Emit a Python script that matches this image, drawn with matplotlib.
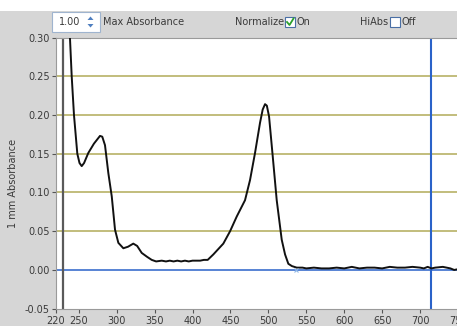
import matplotlib
matplotlib.use("Agg")
import matplotlib.pyplot as plt
from matplotlib.patches import Rectangle, Polygon
from matplotlib.lines import Line2D

# Absorbance spectrum (1 mm path length)
wavelength = [237, 240.7, 243.7, 248.1, 251, 253.9, 257, 262.6, 270, 278, 281,
              284.6, 289, 293.5, 297.8, 302.2, 308.8, 315, 321.9, 327, 333, 340,
              346.2, 352, 359.4, 365, 370, 375, 380, 385, 390, 395, 400, 405,
              410, 415, 420, 427.4, 434, 440.6, 449.5, 458.3, 469.2, 475.8,
              482.4, 489, 492.5, 495.6, 498, 500.9, 505.8, 511, 517.6, 522,
              526.3, 531, 537.4, 545, 550, 560, 570, 580, 590, 600, 610, 615,
              620, 630, 640, 650, 660, 670, 680, 690, 700, 705, 710, 715, 720,
              730, 740, 745, 750]
absorbance = [0.33, 0.25, 0.20, 0.15, 0.138, 0.134, 0.138, 0.151, 0.163, 0.173,
              0.172, 0.161, 0.125, 0.095, 0.052, 0.035, 0.028, 0.030, 0.034,
              0.031, 0.022, 0.017, 0.013, 0.011, 0.012, 0.011, 0.012, 0.011,
              0.012, 0.011, 0.012, 0.011, 0.012, 0.012, 0.012, 0.013, 0.013,
              0.020, 0.027, 0.034, 0.050, 0.069, 0.090, 0.116, 0.151, 0.190,
              0.207, 0.214, 0.212, 0.198, 0.146, 0.090, 0.039, 0.020, 0.008,
              0.005, 0.003, 0.003, 0.002, 0.003, 0.002, 0.002, 0.003, 0.002,
              0.004, 0.003, 0.002, 0.003, 0.003, 0.002, 0.004, 0.003, 0.003,
              0.004, 0.003, 0.002, 0.004, 0.002, 0.003, 0.004, 0.002, 0.000,
              0.001]

x_ticks = [220, 250, 300, 350, 400, 450, 500, 550, 600, 650, 700, 750]
y_ticks = [-0.05, 0.00, 0.05, 0.10, 0.15, 0.20, 0.25, 0.30]
y_tick_labels = ["-0.05", "0.00", "0.05", "0.10", "0.15", "0.20", "0.25", "0.30"]
grid_levels = [0.05, 0.10, 0.15, 0.20, 0.25]
reference_wl = 229
cursor_wl = 715
cursor_mark = (537, 0.0)

W, H = 457, 326
TXT = "#3a3a3a"


def fx(px):
    return px / W


def fy(py):
    return 1 - py / H


fig = plt.figure(figsize=(W / 100, H / 100), dpi=100, facecolor="#d6d6d6")

# white strip above the toolbar
fig.patches.append(Rectangle((0, fy(11)), 1, 11 / H, transform=fig.transFigure,
                             facecolor="white", edgecolor="none", zorder=0))

# toolbar: spin box with max absorbance value
fig.patches.append(Rectangle((fx(52), fy(32)), fx(48), 20 / H,
                             transform=fig.transFigure, facecolor="white",
                             edgecolor="#9fb4cf", linewidth=0.8, zorder=1))
fig.text(fx(70), fy(22), "1.00", fontsize=7, color=TXT, ha="center", va="center")
fig.patches.append(Polygon([(fx(87.5), fy(20)), (fx(93.5), fy(20)), (fx(90.5), fy(16.5))],
                           closed=True, transform=fig.transFigure,
                           facecolor="#4f7fc0", edgecolor="none", zorder=2))
fig.patches.append(Polygon([(fx(87.5), fy(24)), (fx(93.5), fy(24)), (fx(90.5), fy(27.5))],
                           closed=True, transform=fig.transFigure,
                           facecolor="#4f7fc0", edgecolor="none", zorder=2))
fig.text(fx(103), fy(22), "Max Absorbance", fontsize=7, color=TXT,
         ha="left", va="center")

# Normalize checkbox (checked)
fig.text(fx(235), fy(22), "Normalize", fontsize=7, color=TXT, ha="left", va="center")
fig.patches.append(Rectangle((fx(285), fy(27)), fx(10), 10 / H,
                             transform=fig.transFigure, facecolor="white",
                             edgecolor="#4a6fa5", linewidth=0.8, zorder=1))
fig.lines.append(Line2D([fx(287), fx(289.5), fx(293.5)], [fy(22), fy(25), fy(18.5)],
                        transform=fig.transFigure, color="#2ca02c", linewidth=1.3,
                        zorder=2))
fig.text(fx(296.5), fy(22), "On", fontsize=7, color=TXT, ha="left", va="center")

# HiAbs checkbox (unchecked)
fig.text(fx(360), fy(22), "HiAbs", fontsize=7, color=TXT, ha="left", va="center")
fig.patches.append(Rectangle((fx(390), fy(27)), fx(10), 10 / H,
                             transform=fig.transFigure, facecolor="white",
                             edgecolor="#4a6fa5", linewidth=0.8, zorder=1))
fig.text(fx(402), fy(22), "Off", fontsize=7, color=TXT, ha="left", va="center")

# plot area
ax = fig.add_axes([fx(56), fy(308.7), fx(402), 271.2 / H])
ax.set_facecolor("white")
ax.set_xlim(220, 750)
ax.set_ylim(-0.05, 0.30)

for lvl in grid_levels:
    ax.axhline(lvl, color="#bdb872", linewidth=1.3, zorder=1)
ax.axhline(0.0, color="#2a62c9", linewidth=1.1, zorder=2)
ax.axvline(reference_wl, color="#5a5a5a", linewidth=1.6, zorder=2)
ax.axvline(cursor_wl, color="#2a62c9", linewidth=1.5, zorder=2)

ax.plot(wavelength, absorbance, color="#111111", linewidth=1.4, zorder=3)
ax.plot([cursor_mark[0]], [cursor_mark[1]], marker="x", color="#8fb8e8",
        markersize=3, markeredgewidth=0.8, zorder=4)

ax.set_xticks(x_ticks)
ax.set_xticklabels([str(t) for t in x_ticks])
ax.set_yticks(y_ticks)
ax.set_yticklabels(y_tick_labels)
ax.tick_params(direction="out", length=3, width=0.8, colors="#555555",
               labelcolor=TXT, labelsize=7, pad=1.5)
ax.tick_params(axis="x", pad=2)
for side in ("left", "top", "bottom"):
    ax.spines[side].set_color("#9a9a9a")
    ax.spines[side].set_linewidth(0.8)
ax.spines["right"].set_visible(False)

fig.text(fx(13), fy(183), "1 mm Absorbance", fontsize=7, color=TXT,
         rotation=90, ha="center", va="center")

fig.savefig("out.png", dpi=100, facecolor=fig.get_facecolor())
